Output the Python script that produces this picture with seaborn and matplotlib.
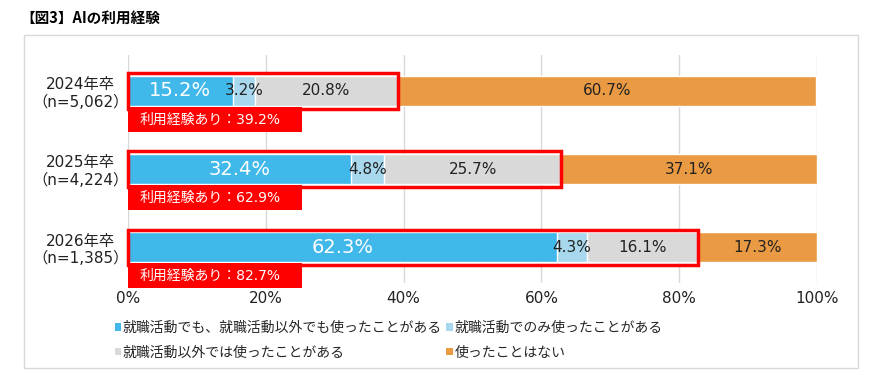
import numpy as np
import pandas as pd
import matplotlib
matplotlib.use("Agg")
import matplotlib.pyplot as plt
from matplotlib.patches import Rectangle, Patch
import seaborn as sns

# ---- data ----
years = ["2024年卒\n（n=5,062）", "2025年卒\n（n=4,224）", "2026年卒\n（n=1,385）"]
series = ["就職活動でも、就職活動以外でも使ったことがある",
          "就職活動でのみ使ったことがある",
          "就職活動以外では使ったことがある",
          "使ったことはない"]
both = [15.2, 32.4, 62.3]
job_only = [3.2, 4.8, 4.3]
other_only = [20.8, 25.7, 16.1]
never = [60.7, 37.1, 17.3]
used_total = [39.2, 62.9, 82.7]
xticks = [0, 20, 40, 60, 80, 100]

colors = ["#41B8EA", "#A8D8EE", "#D9D9D9", "#EA9A42"]

sns.set_theme(style="white")
plt.rcParams["font.family"] = ["DejaVu Sans", "Noto Sans CJK JP"]
cjk = ["Noto Sans CJK JP", "DejaVu Sans"]

df = pd.DataFrame({"year": years, "s1": both, "s2": job_only,
                   "s3": other_only, "s4": never})
vals = df[["s1", "s2", "s3", "s4"]].to_numpy()
cum = np.cumsum(vals, axis=1)
lefts = cum - vals

fig = plt.figure(figsize=(8.75, 3.85), dpi=100)
ax = fig.add_axes([0.1463, 0.2649, 0.7874, 0.5922])

# stacked bars: draw cumulative totals from widest to narrowest
for k in range(3, -1, -1):
    sns.barplot(x=cum[:, k], y=df["year"], color=colors[k], orient="h",
                width=0.38, saturation=1, ax=ax, zorder=2)

ax.set_ylim(2.46, -0.46)
ax.set_xlim(0, 100)

# segment labels
for i in range(len(years)):
    for k in range(4):
        xc = lefts[i, k] + vals[i, k] / 2
        if k == 0:
            ax.text(xc, i, f"{vals[i, k]:.1f}%", ha="center", va="center",
                    color="white", fontsize=14, zorder=5)
        else:
            ax.text(xc, i, f"{vals[i, k]:.1f}%", ha="center", va="center",
                    color="#222222", fontsize=11, zorder=5)
    # red outline around "used" part
    ax.add_patch(Rectangle((0, i - 0.225), used_total[i], 0.45, fill=False,
                           edgecolor="#FF0000", lw=2.5, zorder=6, clip_on=False))
    # red label box below bar
    ax.add_patch(Rectangle((0, i + 0.2), 25.2, 0.33, facecolor="#FF0000",
                           edgecolor="none", zorder=6, clip_on=False))
    ax.text(1.7, i + 0.365, f"利用経験あり：{used_total[i]:.1f}%", ha="left",
            va="center", color="white", fontsize=10, zorder=7)

ax.set_xticks(xticks)
ax.set_xticklabels([f"{t}%" for t in xticks], fontsize=11, color="#222222")
ax.xaxis.grid(True, color="#D9D9D9", lw=1, zorder=0)
ax.yaxis.grid(False)
ax.set_axisbelow(True)
ax.set_xlabel("")
ax.set_ylabel("")
ax.tick_params(axis="x", length=0, pad=6)
ax.tick_params(axis="y", length=0, pad=34)
for lab in ax.get_yticklabels():
    lab.set_horizontalalignment("center")
    lab.set_fontsize(11)
    lab.set_color("#222222")
sns.despine(ax=ax, left=True, bottom=True)

# legend (row-wise order)
handles = [Patch(facecolor=c, edgecolor="none") for c in colors]
order = [0, 2, 1, 3]
fig.legend([handles[j] for j in order], [series[j] for j in order],
           loc="upper left", bbox_to_anchor=(0.131, 0.166), ncol=2,
           frameon=False, prop={"family": cjk, "size": 10},
           handlelength=0.45, handleheight=0.45,
           handletextpad=0.15, columnspacing=0.3, labelspacing=0.75,
           borderpad=0, borderaxespad=0)

# outer frame and title
fig.patches.append(Rectangle((0.0274, 0.0442), 0.953, 0.865, transform=fig.transFigure,
                             fill=False, edgecolor="#D9D9D9", lw=1))
fig.text(0.023, 0.953, "【図3】AIの利用経験", ha="left", va="center",
         fontsize=10.5, fontweight="bold", color="black", family=cjk)

fig.savefig("out.png", dpi=100)
